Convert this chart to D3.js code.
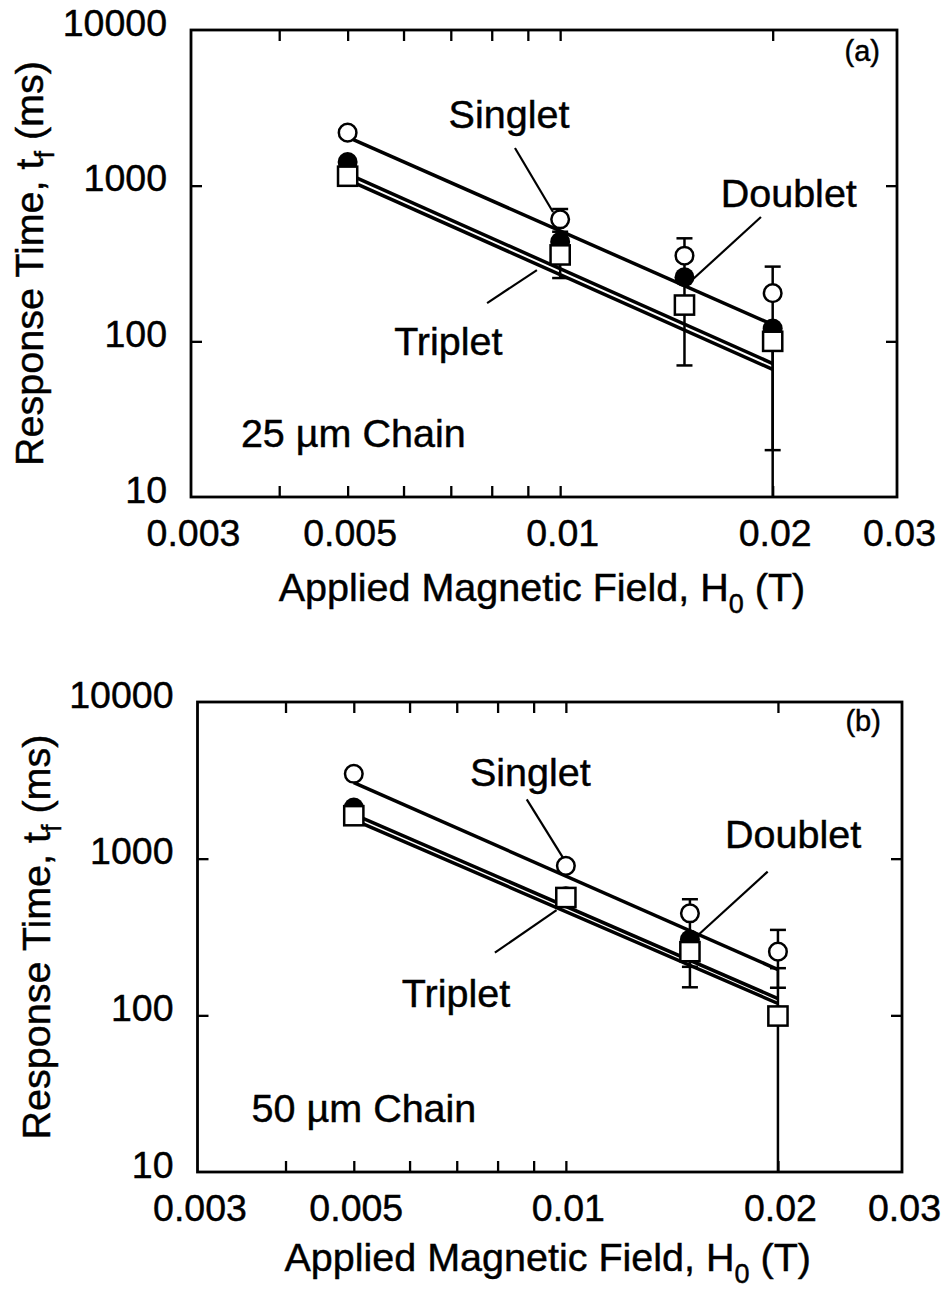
<!DOCTYPE html>
<html><head><meta charset="utf-8">
<script src="https://cdn.jsdelivr.net/npm/d3@7"></script>
<style>
body{margin:0;background:#fff}
svg{display:block}
text{font-family:"Liberation Sans",Arial,Helvetica,sans-serif;fill:#000;stroke:#000;stroke-width:0.45px}
</style>
</head><body>
<svg id="chart" width="941" height="1293"></svg>
<script>
// ---------- data ----------
const fieldValues = [0.005, 0.01, 0.015, 0.02];
const fitField = [0.005, 0.02];
const xTickValues = [0.003, 0.005, 0.01, 0.02, 0.03];
const xTickLabels = ["0.003", "0.005", "0.01", "0.02", "0.03"];
const xMinorTicks = [0.004, 0.005, 0.006, 0.007, 0.008, 0.009, 0.01, 0.02];
const yTickValues = [10, 100, 1000, 10000];
const yTickLabels = ["10", "100", "1000", "10000"];
const yInnerTicks = [100, 1000];
const seriesNames = ["Singlet", "Doublet", "Triplet"];

// Panel (a) 25 µm chain
const singletA = [2190, 608, 355, 204];
const doubletA = [1420, 436, 258, 121];
const tripletA = [1150, 359, 171, 100];
const singletErrLoA = [null, null, null, null];
const singletErrHiA = [null, 708, 459, 302];
const doubletErrLoA = [null, null, 180, 20];
const doubletErrHiA = [null, 506, 330, 190];
const tripletErrLoA = [null, 255, 70, 5];
const tripletErrHiA = [null, null, null, null];
const singletFitA = [2050, 128];
const doubletFitA = [1190, 72];
const tripletFitA = [1090, 66];

// Panel (b) 50 µm chain
const singletB = [3480, 900, 448, 255];
const doubletB = [2120, 575, 305, 100];
const tripletB = [1880, 565, 255, 99];
const singletErrLoB = [null, null, null, 150];
const singletErrHiB = [null, null, 551, 351];
const doubletErrLoB = [null, null, 204, null];
const doubletErrHiB = [null, null, 420, 200];
const tripletErrLoB = [null, null, 151, 5];
const tripletErrHiB = [null, null, null, null];
const singletFitB = [3060, 196];
const doubletFitB = [1920, 128];
const tripletFitB = [1770, 119];

// ---------- drawing ----------
const svg = d3.select("#chart");
const TICK_FONT = 37.5;
const FONT = 39.5;
const SUB_FONT = 27;

function drawPanel(cfg) {
  const x = d3.scaleLog().domain([0.003, 0.03]).range([cfg.left, cfg.right]);
  const y = d3.scaleLog().domain([10, 10000]).range([cfg.bottom, cfg.top]);
  const g = svg.append("g");

  const clipId = "clip" + cfg.id;
  g.append("clipPath").attr("id", clipId).append("rect")
    .attr("x", cfg.left).attr("y", cfg.top)
    .attr("width", cfg.right - cfg.left).attr("height", cfg.bottom - cfg.top);
  const plot = g.append("g").attr("clip-path", `url(#${clipId})`);

  // fit lines
  const line = d3.line().x(d => x(d[0])).y(d => y(d[1]));
  cfg.fits.forEach(f => {
    plot.append("path").datum(fitField.map((h, i) => [h, f[i]]))
      .attr("d", line).attr("fill", "none").attr("stroke", "#000")
      .attr("stroke-width", 3.5);
  });

  // error bars
  const capW = 8;
  cfg.series.forEach(s => {
    fieldValues.forEach((h, i) => {
      const lo = s.lo[i], hi = s.hi[i], v = s.vals[i];
      if (lo == null && hi == null) return;
      const xx = x(h);
      const y1 = y(lo != null ? lo : v), y2 = y(hi != null ? hi : v);
      plot.append("line").attr("x1", xx).attr("x2", xx).attr("y1", y1).attr("y2", y2)
        .attr("stroke", "#000").attr("stroke-width", 2.5);
      [lo, hi].forEach(c => {
        if (c == null) return;
        plot.append("line").attr("x1", xx - capW).attr("x2", xx + capW)
          .attr("y1", y(c)).attr("y2", y(c))
          .attr("stroke", "#000").attr("stroke-width", 2.5);
      });
    });
  });

  // markers
  cfg.series.forEach(s => {
    const grp = plot.append("g");
    fieldValues.forEach((h, i) => {
      const cx = x(h), cy = y(s.vals[i]);
      if (s.shape === "openCircle") {
        grp.append("circle").attr("cx", cx).attr("cy", cy).attr("r", 8.8)
          .attr("fill", "#fff").attr("stroke", "#000").attr("stroke-width", 2.5);
      } else if (s.shape === "filledCircle") {
        grp.append("circle").attr("cx", cx).attr("cy", cy).attr("r", 10)
          .attr("fill", "#000");
      } else {
        grp.append("rect").attr("x", cx - 9.6).attr("y", cy - 9.6)
          .attr("width", 19.2).attr("height", 19.2)
          .attr("fill", "#fff").attr("stroke", "#000").attr("stroke-width", 2.5);
      }
    });
  });

  // frame
  g.append("rect").attr("x", cfg.left).attr("y", cfg.top)
    .attr("width", cfg.right - cfg.left).attr("height", cfg.bottom - cfg.top)
    .attr("fill", "none").attr("stroke", "#000").attr("stroke-width", 2.8);

  // ticks (inward, all four sides)
  const tickStyle = sel => {
    sel.select(".domain").remove();
    sel.selectAll(".tick line").attr("stroke", "#000").attr("stroke-width", 2.3);
  };
  g.append("g").attr("transform", `translate(0,${cfg.bottom})`)
    .call(d3.axisBottom(x).tickValues(xMinorTicks).tickSizeInner(-11).tickSizeOuter(0).tickFormat(""))
    .call(tickStyle);
  g.append("g").attr("transform", `translate(0,${cfg.top})`)
    .call(d3.axisTop(x).tickValues(xMinorTicks).tickSizeInner(-11).tickSizeOuter(0).tickFormat(""))
    .call(tickStyle);
  g.append("g").attr("transform", `translate(${cfg.left},0)`)
    .call(d3.axisLeft(y).tickValues(yInnerTicks).tickSizeInner(-11).tickSizeOuter(0).tickFormat(""))
    .call(tickStyle);
  g.append("g").attr("transform", `translate(${cfg.right},0)`)
    .call(d3.axisRight(y).tickValues(yInnerTicks).tickSizeInner(-11).tickSizeOuter(0).tickFormat(""))
    .call(tickStyle);

  // tick labels
  const xl = g.append("g").attr("transform", `translate(0,${cfg.bottom})`)
    .call(d3.axisBottom(x).tickValues(xTickValues).tickSize(0).tickPadding(22)
      .tickFormat((d, i) => xTickLabels[i]));
  xl.select(".domain").remove();
  xl.attr("font-size", TICK_FONT).attr("font-family", null);
  xl.selectAll("text").attr("dx", 2);

  const yl = g.append("g").attr("transform", `translate(${cfg.left},0)`)
    .call(d3.axisLeft(y).tickValues(yTickValues).tickSize(0).tickPadding(24)
      .tickFormat((d, i) => yTickLabels[i]));
  yl.select(".domain").remove();
  yl.attr("font-size", TICK_FONT).attr("font-family", null);
  yl.selectAll("text").attr("dy", 5);

  // axis titles
  const xt = g.append("text")
    .attr("x", (cfg.left + cfg.right) / 2 - 2).attr("y", cfg.xTitleY)
    .attr("text-anchor", "middle").attr("font-size", FONT);
  xt.append("tspan").text("Applied Magnetic Field, H");
  xt.append("tspan").attr("font-size", SUB_FONT).attr("dy", 12).text("0");
  xt.append("tspan").attr("dy", -12).text(" (T)");

  const yt = g.append("text")
    .attr("transform", `translate(${cfg.yTitleX},${(cfg.top + cfg.bottom) / 2}) rotate(-90)`)
    .attr("text-anchor", "middle").attr("font-size", FONT);
  yt.append("tspan").text("Response Time, t");
  yt.append("tspan").attr("font-size", SUB_FONT).attr("dy", 11).text("f");
  yt.append("tspan").attr("dy", -11).text(" (ms)");

  // annotations
  cfg.leaders.forEach(l => {
    g.append("line").attr("x1", x(l[0])).attr("y1", y(l[1]))
      .attr("x2", x(l[2])).attr("y2", y(l[3]))
      .attr("stroke", "#000").attr("stroke-width", 2.2);
  });
  cfg.notes.forEach(n => {
    g.append("text").attr("x", x(n.h)).attr("y", y(n.t))
      .attr("text-anchor", n.anchor || "start")
      .attr("font-size", n.size || FONT).text(n.text);
  });
}

const panels = [
  {
    id: "a", left: 191, right: 897, top: 30, bottom: 497, xTitleY: 601, yTitleX: 43,
    fits: [singletFitA, doubletFitA, tripletFitA],
    series: [
      {vals: singletA, lo: singletErrLoA, hi: singletErrHiA, shape: "openCircle"},
      {vals: doubletA, lo: doubletErrLoA, hi: doubletErrHiA, shape: "filledCircle"},
      {vals: tripletA, lo: tripletErrLoA, hi: tripletErrHiA, shape: "square"}
    ],
    leaders: [
      [0.00863, 1746, 0.00977, 678],
      [0.00788, 176, 0.00927, 287],
      [0.01925, 629, 0.01532, 244]
    ],
    notes: [
      {text: seriesNames[0], h: 0.00695, t: 2336},
      {text: seriesNames[1], h: 0.01688, t: 733},
      {text: seriesNames[2], h: 0.00582, t: 81.7},
      {text: "25 µm Chain", h: 0.00353, t: 20.9},
      {text: "(a)", h: 0.02838, t: 6300, anchor: "end", size: 29}
    ]
  },
  {
    id: "b", left: 197.5, right: 902, top: 702, bottom: 1172, xTitleY: 1271, yTitleX: 50,
    fits: [singletFitB, doubletFitB, tripletFitB],
    series: [
      {vals: singletB, lo: singletErrLoB, hi: singletErrHiB, shape: "openCircle"},
      {vals: doubletB, lo: doubletErrLoB, hi: doubletErrHiB, shape: "filledCircle"},
      {vals: tripletB, lo: tripletErrLoB, hi: tripletErrHiB, shape: "square"}
    ],
    leaders: [
      [0.00880, 2393, 0.00992, 1005],
      [0.00793, 251, 0.00970, 470],
      [0.01934, 826, 0.01530, 316]
    ],
    notes: [
      {text: seriesNames[0], h: 0.00731, t: 2909},
      {text: seriesNames[1], h: 0.01682, t: 1170},
      {text: seriesNames[2], h: 0.00585, t: 113},
      {text: "50 µm Chain", h: 0.00358, t: 20.9},
      {text: "(b)", h: 0.0280, t: 6500, anchor: "end", size: 29}
    ]
  }
];

panels.forEach(drawPanel);
</script>
</body></html>
